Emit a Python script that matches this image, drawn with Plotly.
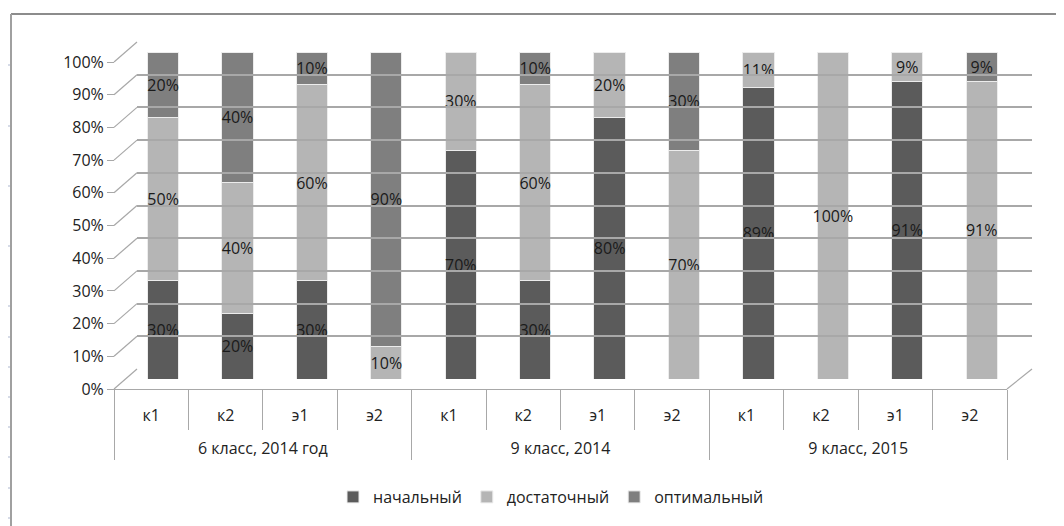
import plotly.graph_objects as go

group_names = ["6 класс, 2014 год", "9 класс, 2014", "9 класс, 2015"]
sub_names = ["к1", "к2", "э1", "э2"]

nachalny = [30, 20, 30, 0, 70, 30, 80, 0, 89, 0, 91, 0]
dostatochny = [50, 40, 60, 10, 30, 60, 20, 70, 11, 100, 9, 91]
optimalny = [20, 40, 10, 90, 0, 10, 0, 30, 0, 0, 0, 9]

# group labels get a leading blank line so they sit lower (like the reference)
groups = ["<br>" + g for g in group_names for _ in sub_names]
subs = sub_names * len(group_names)

series = [
    ("начальный", nachalny, "#5b5b5b"),
    ("достаточный", dostatochny, "#b5b5b5"),
    ("оптимальный", optimalny, "#7f7f7f"),
]
ytick_vals = list(range(0, 101, 10))
ytick_text = [f"{v}%" for v in ytick_vals]

W, H = 1064, 526
OFF = 8  # page body margin
# plot area in screen pixels
PL, PR, PT, PB = 114, 1032, 42, 389
L, T = PL - OFF, PT - OFF
R, B = W - (PR - OFF), H - (PB - OFF)
PW, PH = PR - PL, PB - PT

def fx(px):
    return (px - PL) / PW

def fy(py):
    return (PB - py) / PH

# domains (3D-like: front labels, mid-plane bars, back wall grid)
x_cat = [0, fx(1007)]
y_bars = [fy(379), fy(52)]
y_front = [0, fy(62)]
x_back = [fx(137), 1]
y_back = [fy(369), 1]

FONT = "Open Sans, DejaVu Sans, sans-serif"
GRID = "#a8a8a8"
n_cat = len(subs)

fig = go.Figure()
for name, vals, col in series:
    fig.add_trace(go.Bar(
        x=[groups, subs],
        y=vals,
        name=name,
        width=0.42,
        offset=-0.21 + 0.16,
        marker=dict(color=col, line=dict(color="#ececec", width=1)),
        text=[f"{v}%" if v > 0 else "" for v in vals],
        textposition="inside",
        insidetextanchor="middle",
        textangle=0,
        textfont=dict(color="#1a1a1a", size=16, family=FONT),
        hoverinfo="skip",
        xaxis="x", yaxis="y",
    ))

# helper empty traces so the extra axes are drawn
fig.add_trace(go.Scatter(x=[groups[:1], subs[:1]], y=[None], xaxis="x", yaxis="y2",
                         showlegend=False, hoverinfo="skip", mode="markers"))
fig.add_trace(go.Scatter(x=[0], y=[None], xaxis="x3", yaxis="y3",
                         showlegend=False, hoverinfo="skip", mode="markers"))

fig.update_layout(
    barmode="stack",
    width=W, height=H,
    margin=dict(l=L, r=R, t=T, b=B, autoexpand=False),
    paper_bgcolor="white",
    plot_bgcolor="rgba(0,0,0,0)",
    font=dict(family=FONT, size=16, color="#222222"),
    uniformtext=dict(minsize=16, mode="show"),
    legend=dict(
        orientation="h",
        x=fx(551), xanchor="center",
        y=fy(497), yanchor="middle",
        font=dict(size=16),
        traceorder="normal",
        itemclick=False,
    ),
    xaxis=dict(
        domain=x_cat, anchor="free", position=0,
        range=[-0.5, n_cat - 0.5], autorange=False,
        automargin=False,
        showline=True, linecolor=GRID,
        showdividers=True, dividercolor=GRID, dividerwidth=1,
        ticks="outside", tickcolor=GRID, tickson="boundaries", ticklen=40,
        ticklabelstandoff=12,
        tickfont=dict(size=16),
        showgrid=False, zeroline=False,
    ),
    yaxis=dict(
        domain=y_bars, range=[0, 100], anchor="x",
        automargin=False, showticklabels=False, showgrid=False,
        zeroline=False, showline=False, ticks="",
    ),
    yaxis2=dict(
        domain=y_front, range=[0, 100], anchor="free", position=0,
        automargin=False,
        tickvals=ytick_vals, ticktext=ytick_text,
        ticks="outside", ticklen=7, tickcolor=GRID,
        showgrid=False, zeroline=False, showline=False,
        tickfont=dict(size=16),
    ),
    xaxis3=dict(
        domain=x_back, range=[0, 1], anchor="y3",
        visible=False, automargin=False,
    ),
    yaxis3=dict(
        domain=y_back, range=[0, 100], anchor="x3",
        automargin=False,
        tickvals=ytick_vals, showticklabels=False, ticks="",
        showgrid=True, gridcolor=GRID, gridwidth=1.5,
        zeroline=False, showline=False,
    ),
)

shapes = []
# left wall diagonals from front ticks to back wall grid
for v in ytick_vals:
    y0 = y_front[0] + v / 100 * (y_front[1] - y_front[0])
    y1 = y_back[0] + v / 100 * (y_back[1] - y_back[0])
    shapes.append(dict(type="line", xref="paper", yref="paper",
                       x0=0, y0=y0, x1=x_back[0], y1=y1,
                       line=dict(color=GRID, width=1.2), layer="below"))
# floor right edge
shapes.append(dict(type="line", xref="paper", yref="paper",
                   x0=x_cat[1], y0=0, x1=1, y1=y_back[0],
                   line=dict(color=GRID, width=1.2), layer="below"))
# outer chart border (top and left)
shapes.append(dict(type="line", xref="paper", yref="paper",
                   x0=fx(11), y0=fy(14), x1=fx(W + 20), y1=fy(14),
                   line=dict(color="#8c8c8c", width=2)))
shapes.append(dict(type="line", xref="paper", yref="paper",
                   x0=fx(11), y0=fy(14), x1=fx(11), y1=fy(H + 20),
                   line=dict(color="#a0a0a0", width=2)))
# spreadsheet row marks on the left edge
for ry in [65, 126, 186, 246, 306, 337, 367, 397, 427, 457, 488, 518]:
    shapes.append(dict(type="line", xref="paper", yref="paper",
                       x0=fx(4), y0=fy(ry), x1=fx(10), y1=fy(ry),
                       line=dict(color="#c9cfdf", width=1.5)))
fig.update_layout(shapes=shapes)

fig.write_html("out.html")
